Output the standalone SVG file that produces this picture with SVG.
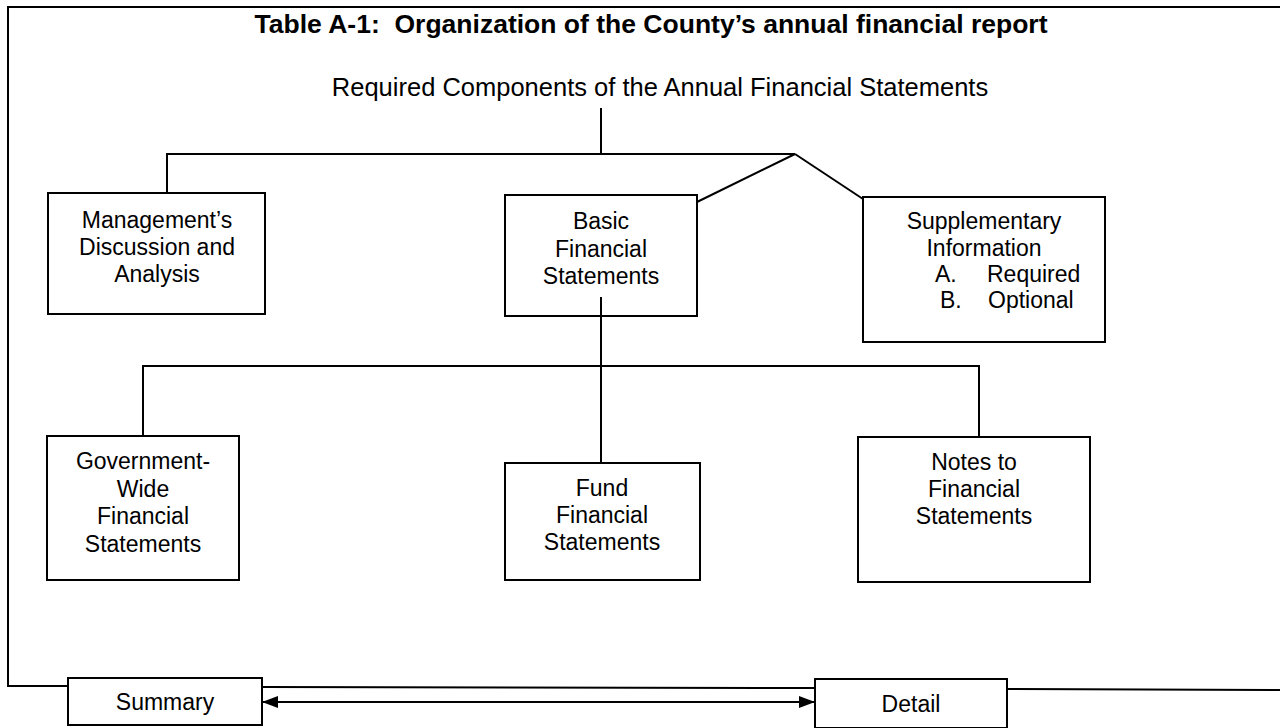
<svg xmlns="http://www.w3.org/2000/svg" width="1280" height="728" viewBox="0 0 1280 728">
  <defs>
    <style>
      .ln { stroke: #000; stroke-width: 2; fill: none; }
      .box { stroke: #000; stroke-width: 2; fill: #fff; }
      .t { font-family: "Liberation Sans", Arial, sans-serif; font-size: 23px; fill: #000; text-anchor: middle; }
      .ts { font-family: "Liberation Sans", Arial, sans-serif; font-size: 23px; fill: #000; text-anchor: start; }
      .title { font-family: "Liberation Sans", Arial, sans-serif; font-size: 26px; font-weight: bold; fill: #000; text-anchor: middle; }
      .sub { font-family: "Liberation Sans", Arial, sans-serif; font-size: 25.5px; fill: #000; text-anchor: middle; }
    </style>
    <marker id="arr" viewBox="0 0 16 12" refX="16" refY="6" markerWidth="16" markerHeight="12" markerUnits="userSpaceOnUse" orient="auto-start-reverse">
      <path d="M0,0 L16,6 L0,12 Z" fill="#000"/>
    </marker>
  </defs>

  <rect width="1280" height="728" fill="#fff"/>

  <!-- outer frame -->
  <g id="frame" class="ln">
    <path d="M1280,7 L8,7 L8,686 L68,686"/>
    <path d="M262,687 L815,688"/>
    <path d="M1007,689 L1280,690"/>
  </g>

  <text class="title" x="651" y="33" xml:space="preserve" textLength="793" lengthAdjust="spacingAndGlyphs">Table A-1:  Organization of the County’s annual financial report</text>
  <text class="sub" x="660" y="96">Required Components of the Annual Financial Statements</text>

  <!-- connectors -->
  <g id="connectors" class="ln">
    <path d="M601,108 L601,154"/>
    <path d="M167,193 L167,154 L795,154"/>
    <path d="M795,154 L697,202"/>
    <path d="M795,154 L863,199"/>
    <path d="M601,297 L601,463"/>
    <path d="M143,436 L143,366 L979,366 L979,437"/>
    <path d="M262,702 L815,702" marker-start="url(#arr)" marker-end="url(#arr)"/>
  </g>

  <g id="mda">
    <rect class="box" x="48" y="193" width="217" height="121"/>
    <text class="t" x="157" y="228">Management’s</text>
    <text class="t" x="157" y="255">Discussion and</text>
    <text class="t" x="157" y="282">Analysis</text>
  </g>

  <g id="basic">
    <rect class="box" x="505" y="195" width="192" height="121"/>
    <text class="t" x="601" y="229">Basic</text>
    <text class="t" x="601" y="257">Financial</text>
    <text class="t" x="601" y="284">Statements</text>
    <path class="ln" d="M601,297 L601,316"/>
  </g>

  <g id="supplementary">
    <rect class="box" x="863" y="197" width="242" height="145"/>
    <text class="t" x="984" y="229">Supplementary</text>
    <text class="t" x="984" y="256">Information</text>
    <text class="ts" x="935" y="282">A.</text>
    <text class="ts" x="987" y="282">Required</text>
    <text class="ts" x="940" y="308">B.</text>
    <text class="ts" x="988" y="308">Optional</text>
  </g>

  <g id="government-wide">
    <rect class="box" x="47" y="436" width="192" height="144"/>
    <text class="t" x="143" y="469">Government-</text>
    <text class="t" x="143" y="497">Wide</text>
    <text class="t" x="143" y="524">Financial</text>
    <text class="t" x="143" y="552">Statements</text>
  </g>

  <g id="fund">
    <rect class="box" x="505" y="463" width="195" height="117"/>
    <text class="t" x="602" y="496">Fund</text>
    <text class="t" x="602" y="523">Financial</text>
    <text class="t" x="602" y="550">Statements</text>
  </g>

  <g id="notes">
    <rect class="box" x="858" y="437" width="232" height="145"/>
    <text class="t" x="974" y="470">Notes to</text>
    <text class="t" x="974" y="497">Financial</text>
    <text class="t" x="974" y="524">Statements</text>
  </g>

  <g id="summary">
    <rect class="box" x="68" y="678" width="194" height="47"/>
    <text class="t" x="165" y="710">Summary</text>
  </g>

  <g id="detail">
    <rect class="box" x="815" y="679" width="192" height="49"/>
    <text class="t" x="911" y="712">Detail</text>
  </g>
</svg>
